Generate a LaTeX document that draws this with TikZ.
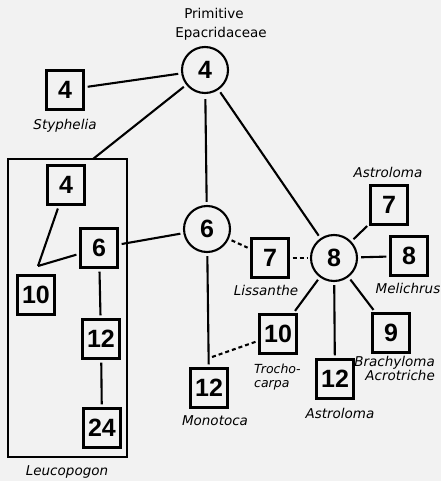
\documentclass[tikz,border=0pt]{standalone}
\usepackage{fontspec}
\setmainfont{DejaVu Sans}
\newfontfamily\numfont{Liberation Sans}
\usetikzlibrary{positioning}
\tikzset{
  numbox/.style={draw, line width=2.4pt, minimum width=37pt, minimum height=39pt, inner sep=0pt, font=\numfont\bfseries\fontsize{25}{25}\selectfont},
  numcirc/.style={draw, circle, line width=2.1pt, minimum size=46pt, inner sep=0pt, font=\numfont\bfseries\fontsize{25}{25}\selectfont},
  link/.style={line width=2.1pt, shorten <=3pt, shorten >=3pt},
  dlink/.style={line width=2.1pt, dash pattern=on 4pt off 3pt, shorten <=3pt, shorten >=3pt},
  taxon/.style={font=\itshape\fontsize{13.5}{11.5}\selectfont, inner sep=0pt},
  title/.style={font=\fontsize{13.5}{19}\selectfont, inner sep=0pt}
}
\begin{document}
\begin{tikzpicture}[x=1pt,y=-1pt]
\fill[black!5] (0,0) rectangle (441,481);
\useasboundingbox (0,0) rectangle (441,481);

% circles
\node[numcirc] (top) at (205,70) {4};
\node[numcirc] (c6) at (207,229) {6};
\node[numcirc] (c8) at (334,258) {8};

% Leucopogon frame
\draw[line width=2.3pt] (8,159) rectangle (127,457);
\coordinate (ltop) at (93,159);
\coordinate (apex) at (38,266);
\coordinate (dend) at (212,357);

% boxes
\node[numbox] (sty) at (65,90) {4};
\node[numbox] (l4) at (66,185) {4};
\node[numbox] (l6) at (99,248) {6};
\node[numbox] (l10) at (36,295) {10};
\node[numbox] (l12) at (101,339) {12};
\node[numbox] (l24) at (102,428) {24};
\node[numbox] (mono) at (209,388) {12};
\node[numbox] (lis) at (270,258) {7};
\node[numbox] (tro) at (278,334) {10};
\node[numbox] (ast7) at (389,205) {7};
\node[numbox] (mel) at (409,256) {8};
\node[numbox] (b9) at (391,333) {9};
\node[numbox] (ast12) at (335,379) {12};

% labels
\node[title, align=center] (ttl) at (214,24) {Primitive\\\hspace*{14pt}Epacridaceae};
\node[taxon] (nsty) at (65,126) {Styphelia};
\node[taxon] (nleu) at (67,472) {Leucopogon};
\node[taxon] (nmono) at (215,421) {Monotoca};
\node[taxon] (nlis) at (266,290) {Lissanthe};
\node[taxon] (nast1) at (388,172) {Astroloma};
\node[taxon] (nmel) at (408,288) {Melichrus};
\node[taxon, align=right, anchor=east] (nbra) at (435,368) {Brachyloma\\Acrotriche};
\node[taxon, font=\itshape\fontsize{12.5}{13.5}\selectfont, align=left, anchor=west] (ntro) at (254,377) {Trocho-\\carpa};
\node[taxon] (nast2) at (340,413) {Astroloma};

% connectors
\draw[link] (top) -- (sty);
\draw[link, shorten >=0pt] (top) -- (ltop);
\draw[link, shorten <=5pt] (top) -- (c6);
\draw[link] (top) -- (c8);
\draw[link, shorten >=0pt] (l4) -- (apex);
\draw[link, shorten <=0pt] (apex) -- (l6);
\draw[link] (l6) -- (l12);
\draw[link] (l12) -- (l24);
\draw[link] (l6) -- (c6);
\draw[link] (c6) -- (mono);
\draw[dlink] (c6) -- (lis);
\draw[dlink] (lis) -- (c8);
\draw[link] (c8) -- (ast7);
\draw[link] (c8) -- (mel);
\draw[link] (c8) -- (b9);
\draw[link] (c8) -- (ast12);
\draw[link] (c8) -- (tro);
\draw[dlink, shorten >=0pt] (tro) -- (dend);
\end{tikzpicture}
\end{document}
